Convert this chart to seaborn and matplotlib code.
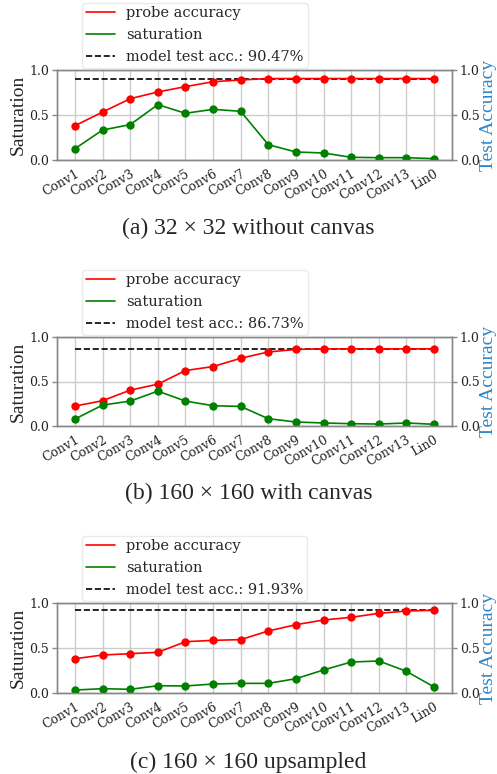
import numpy as np
import pandas as pd
import matplotlib
matplotlib.use("Agg")
import matplotlib.pyplot as plt
import seaborn as sns
from matplotlib.lines import Line2D

layers = ["Conv1", "Conv2", "Conv3", "Conv4", "Conv5", "Conv6", "Conv7",
          "Conv8", "Conv9", "Conv10", "Conv11", "Conv12", "Conv13", "Lin0"]

probe_a = [0.381, 0.533, 0.681, 0.756, 0.815, 0.870, 0.889, 0.905, 0.905, 0.905, 0.905, 0.905, 0.905, 0.905]
sat_a = [0.126, 0.333, 0.393, 0.615, 0.519, 0.563, 0.541, 0.170, 0.089, 0.078, 0.030, 0.026, 0.026, 0.015]
test_a = 0.9047

probe_b = [0.224, 0.284, 0.403, 0.470, 0.623, 0.668, 0.761, 0.832, 0.860, 0.867, 0.867, 0.867, 0.867, 0.867]
sat_b = [0.078, 0.235, 0.280, 0.392, 0.280, 0.228, 0.220, 0.082, 0.045, 0.034, 0.026, 0.022, 0.034, 0.019]
test_b = 0.8673

probe_c = [0.381, 0.422, 0.437, 0.452, 0.570, 0.585, 0.593, 0.689, 0.759, 0.811, 0.841, 0.885, 0.911, 0.919]
sat_c = [0.033, 0.048, 0.041, 0.081, 0.078, 0.100, 0.107, 0.107, 0.159, 0.256, 0.344, 0.356, 0.241, 0.067]
test_c = 0.9193

captions = ["(a) 32 \u00d7 32 without canvas", "(b) 160 \u00d7 160 with canvas", "(c) 160 \u00d7 160 upsampled"]

panels = [(probe_a, sat_a, test_a), (probe_b, sat_b, test_b), (probe_c, sat_c, test_c)]

sns.set_style("whitegrid")
plt.rcParams["font.family"] = ["DejaVu Serif"]

W, H = 497, 774
fig = plt.figure(figsize=(W / 100, H / 100), dpi=100)

ax_tops = [70, 337, 603]
ax_bottoms = [160, 426, 693]
cap_y = [228, 493, 762]
left_px, right_px = 57, 452

spine_col = "#888888"
grid_col = "#cccccc"
blue = "#2e86c8"
tick_fs = 9

for i, (probe, sat, test) in enumerate(panels):
    b = 1 - ax_bottoms[i] / H
    h = (ax_bottoms[i] - ax_tops[i]) / H
    ax = fig.add_axes([left_px / W, b, (right_px - left_px) / W, h])
    df = pd.DataFrame({"x": np.arange(len(layers)), "probe": probe, "sat": sat})

    ax.plot([0, len(layers) - 1], [test, test], color="black", ls="--", lw=1.2, zorder=2)
    sns.lineplot(data=df, x="x", y="probe", ax=ax, color="red", marker="o",
                 markersize=6, markeredgewidth=0, lw=1.2, zorder=3)
    sns.lineplot(data=df, x="x", y="sat", ax=ax, color="green", marker="o",
                 markersize=6, markeredgewidth=0, lw=1.2, zorder=3)

    ax.set_ylim(0, 1)
    ax.set_xlim(-0.65, len(layers) - 1 + 0.65)
    ax.set_xticks(np.arange(len(layers)))
    ax.set_xticklabels(layers, rotation=30, ha="right", rotation_mode="anchor",
                       fontsize=tick_fs, family="DejaVu Serif")
    ax.set_yticks([0, 0.5, 1.0])
    ax.set_yticklabels(["0.0", "0.5", "1.0"], fontsize=tick_fs, family="DejaVu Serif")
    ax.set_xlabel("")
    ax.set_ylabel("Saturation", fontsize=14, family="Liberation Serif", labelpad=2)
    ax.grid(True, color=grid_col, lw=1)
    for s in ax.spines.values():
        s.set_color(spine_col)
        s.set_linewidth(1)
    ax.tick_params(axis="both", which="major", length=3.5, width=1, color=spine_col,
                   pad=2, labelcolor="#222222")

    ax2 = ax.twinx()
    ax2.set_ylim(0, 1)
    ax2.set_yticks([0, 0.5, 1.0])
    ax2.set_yticklabels(["0.0", "0.5", "1.0"], fontsize=tick_fs, family="DejaVu Serif")
    ax2.grid(False)
    ax2.set_ylabel("Test Accuracy", fontsize=14, family="Liberation Serif", color=blue, labelpad=0)
    for s in ax2.spines.values():
        s.set_color(spine_col)
        s.set_linewidth(1)
    ax2.tick_params(axis="y", length=3.5, width=1, color=spine_col, pad=2, labelcolor="#222222")

    handles = [
        Line2D([], [], color="red", lw=1.2),
        Line2D([], [], color="green", lw=1.2),
        Line2D([], [], color="black", lw=1.2, ls="--"),
    ]
    labels = ["probe accuracy", "saturation", f"model test acc.: {test * 100:.2f}%"]
    fig.legend(handles, labels, loc="lower left",
               bbox_to_anchor=(82 / W, 1 - (ax_tops[i] - 2) / H),
               borderaxespad=0, frameon=True, framealpha=0.8,
               edgecolor="0.9", fancybox=True, handlelength=2.0,
               labelspacing=0.55, borderpad=0.25,
               prop={"family": "DejaVu Serif", "size": 10.5})

    fig.text(0.5, 1 - cap_y[i] / H, captions[i], ha="center", va="center",
             fontsize=17, family="Liberation Serif")

fig.savefig("out.png", dpi=100)
